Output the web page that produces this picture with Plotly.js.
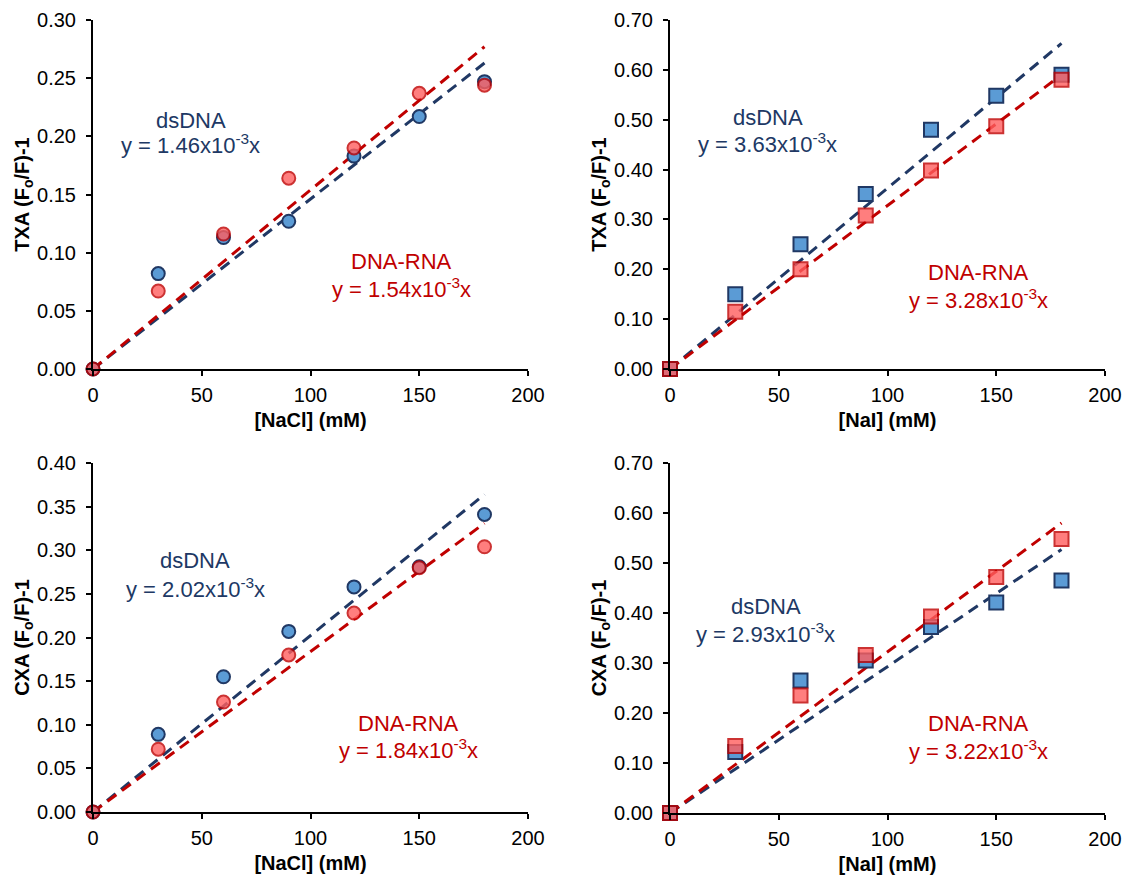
<!DOCTYPE html>
<html>
<head>
<meta charset="utf-8">
<script src="https://cdn.plot.ly/plotly-3.0.1.min.js"></script>
<style>
html,body{margin:0;padding:0;background:#fff;}
#chart{width:1124px;height:879px;}
</style>
</head>
<body>
<div id="chart"></div>
<script>
// ---- Data ----
const conc = [0, 30, 60, 90, 120, 150, 180];
const fitX = [0, 180];

// TXA vs NaCl
const txaNaCl_ds = [0, 0.082, 0.113, 0.127, 0.183, 0.217, 0.247];
const txaNaCl_hy = [0, 0.067, 0.116, 0.164, 0.190, 0.237, 0.244];
const txaNaCl_dsFit = [0, 0.263];
const txaNaCl_hyFit = [0, 0.277];

// TXA vs NaI
const txaNaI_ds = [0, 0.150, 0.250, 0.351, 0.480, 0.548, 0.590];
const txaNaI_hy = [0, 0.115, 0.200, 0.308, 0.398, 0.487, 0.580];
const txaNaI_dsFit = [0, 0.653];
const txaNaI_hyFit = [0, 0.590];

// CXA vs NaCl
const cxaNaCl_ds = [0, 0.089, 0.155, 0.207, 0.258, 0.281, 0.341];
const cxaNaCl_hy = [0, 0.072, 0.126, 0.180, 0.228, 0.280, 0.304];
const cxaNaCl_dsFit = [0, 0.364];
const cxaNaCl_hyFit = [0, 0.331];

// CXA vs NaI
const cxaNaI_ds = [0, 0.122, 0.265, 0.305, 0.372, 0.421, 0.465];
const cxaNaI_hy = [0, 0.134, 0.235, 0.316, 0.393, 0.472, 0.548];
const cxaNaI_dsFit = [0, 0.527];
const cxaNaI_hyFit = [0, 0.580];

const eqDs = ["y = 1.46x10<sup>-3</sup>x", "y = 3.63x10<sup>-3</sup>x", "y = 2.02x10<sup>-3</sup>x", "y = 2.93x10<sup>-3</sup>x"];
const eqHy = ["y = 1.54x10<sup>-3</sup>x", "y = 3.28x10<sup>-3</sup>x", "y = 1.84x10<sup>-3</sup>x", "y = 3.22x10<sup>-3</sup>x"];
const xTitles = ["[NaCl] (mM)", "[NaI] (mM)", "[NaCl] (mM)", "[NaI] (mM)"];
const yTitles = ["TXA (F<sub>o</sub>/F)-1", "TXA (F<sub>o</sub>/F)-1", "CXA (F<sub>o</sub>/F)-1", "CXA (F<sub>o</sub>/F)-1"];
const yMax = [0.30, 0.70, 0.40, 0.70];
const yStep = [0.05, 0.10, 0.05, 0.10];

// ---- Styling ----
const NAVY = '#203864', BLUE = '#5B9BD5', RED = '#C00000', PINK = '#FF5F5F';
const FONT = 'Liberation Sans, Arial, sans-serif';

const panels = [
  {ds: txaNaCl_ds, hy: txaNaCl_hy, dsFit: txaNaCl_dsFit, hyFit: txaNaCl_hyFit, sym: 'circle'},
  {ds: txaNaI_ds, hy: txaNaI_hy, dsFit: txaNaI_dsFit, hyFit: txaNaI_hyFit, sym: 'square'},
  {ds: cxaNaCl_ds, hy: cxaNaCl_hy, dsFit: cxaNaCl_dsFit, hyFit: cxaNaCl_hyFit, sym: 'circle'},
  {ds: cxaNaI_ds, hy: cxaNaI_hy, dsFit: cxaNaI_dsFit, hyFit: cxaNaI_hyFit, sym: 'square'}
];

// pixel geometry of each plot area [x0, x1, yTop, yBottom]
const W = 1124, H = 879;
const boxes = [
  [93, 528, 20, 369],
  [670, 1105, 20, 369],
  [93, 528, 463, 812],
  [670, 1105, 463, 813]
];
// annotation anchors (data coords): [x, yName, yEquation]
const dsPos = [[45, 0.214, 0.193], [45, 0.505, 0.454], [47, 0.288, 0.257], [44, 0.414, 0.361]];
const hyPos = [[142, 0.092, 0.070], [142, 0.193, 0.141], [145, 0.102, 0.072], [142, 0.180, 0.127]];

const traces = [];
const layout = {
  width: W, height: H,
  margin: {l: 0, r: 0, t: 0, b: 0},
  paper_bgcolor: '#fff', plot_bgcolor: '#fff',
  showlegend: false,
  font: {family: FONT, size: 20, color: '#000'},
  annotations: []
};

panels.forEach((p, i) => {
  const n = i + 1;
  const xa = 'x' + (n === 1 ? '' : n), ya = 'y' + (n === 1 ? '' : n);
  const size = p.sym === 'circle' ? 13 : 14;
  // fits
  traces.push({x: fitX, y: p.dsFit, xaxis: xa, yaxis: ya, mode: 'lines',
    line: {color: NAVY, width: 3, dash: '11px,7px'}, hoverinfo: 'skip'});
  traces.push({x: fitX, y: p.hyFit, xaxis: xa, yaxis: ya, mode: 'lines',
    line: {color: RED, width: 3, dash: '11px,7px'}, hoverinfo: 'skip'});
  // points
  traces.push({x: conc, y: p.ds, xaxis: xa, yaxis: ya, mode: 'markers', cliponaxis: false,
    marker: {symbol: p.sym, size: size, color: BLUE, line: {color: NAVY, width: 2}}});
  traces.push({x: conc, y: p.hy, xaxis: xa, yaxis: ya, mode: 'markers', cliponaxis: false,
    marker: {symbol: p.sym, size: size, color: PINK, opacity: 0.8, line: {color: RED, width: 2}}});

  const b = boxes[i];
  const axBase = {
    showgrid: false, zeroline: false, showline: true, linecolor: '#000', linewidth: 2,
    ticks: 'outside', ticklen: 5, tickwidth: 2, tickcolor: '#000',
    tickfont: {family: FONT, size: 20, color: '#000'}, automargin: false, fixedrange: true
  };
  layout['xaxis' + (n === 1 ? '' : n)] = Object.assign({}, axBase, {
    domain: [b[0] / W, b[1] / W], anchor: ya, range: [0, 200], dtick: 50, tick0: 0,
    ticklabelstandoff: 2,
    title: {text: '<b>' + xTitles[i] + '</b>', font: {family: FONT, size: 20, color: '#000'}, standoff: 8}
  });
  layout['yaxis' + (n === 1 ? '' : n)] = Object.assign({}, axBase, {
    domain: [1 - b[3] / H, 1 - b[2] / H], anchor: xa, range: [0, yMax[i]], dtick: yStep[i], tick0: 0,
    tickformat: '.2f', ticklabelstandoff: 6,
    title: {text: '<b>' + yTitles[i] + '</b>', font: {family: FONT, size: 20, color: '#000'}, standoff: 2}
  });
  layout.annotations.push({xref: xa, yref: ya, x: dsPos[i][0], y: dsPos[i][1],
    text: 'dsDNA', showarrow: false, font: {family: FONT, size: 22, color: NAVY}});
  layout.annotations.push({xref: xa, yref: ya, x: dsPos[i][0], y: dsPos[i][2],
    text: eqDs[i], showarrow: false, font: {family: FONT, size: 22, color: NAVY}});
  layout.annotations.push({xref: xa, yref: ya, x: hyPos[i][0], y: hyPos[i][1],
    text: 'DNA-RNA', showarrow: false, font: {family: FONT, size: 22, color: RED}});
  layout.annotations.push({xref: xa, yref: ya, x: hyPos[i][0], y: hyPos[i][2],
    text: eqHy[i], showarrow: false, font: {family: FONT, size: 22, color: RED}});
});

Plotly.newPlot('chart', traces, layout, {displayModeBar: false, staticPlot: true});
</script>
</body>
</html>
